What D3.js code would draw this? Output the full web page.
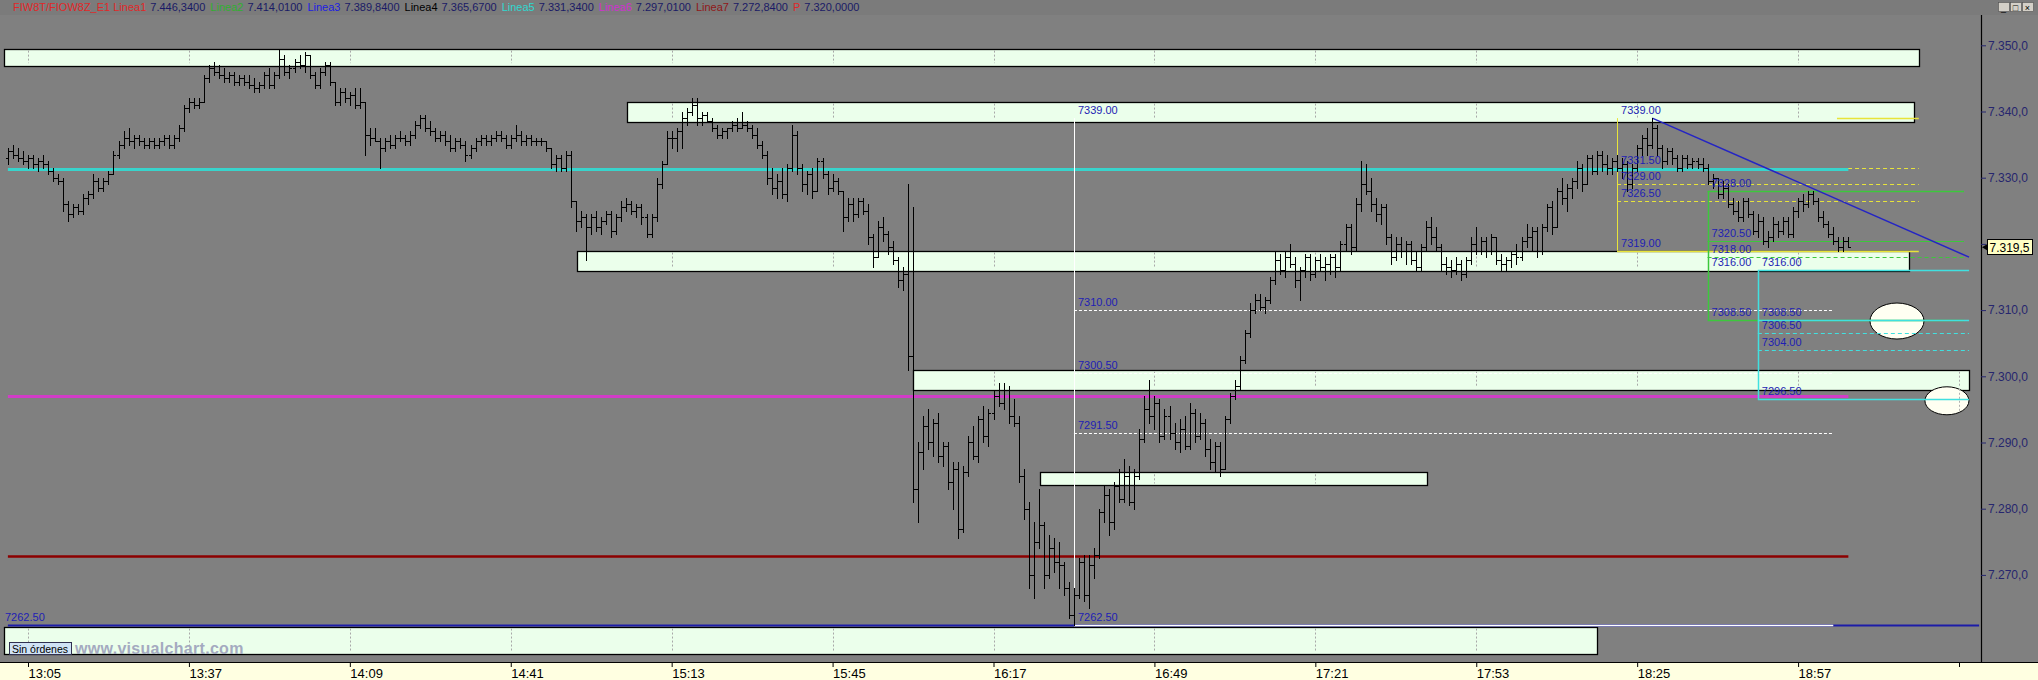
<!DOCTYPE html>
<html><head><meta charset="utf-8">
<script src="https://cdn.jsdelivr.net/npm/d3@7"></script>
<style>
html,body{margin:0;padding:0;background:#808080;overflow:hidden}
svg{display:block;font-family:"Liberation Sans",Arial,sans-serif}
</style></head><body>
<svg id="c" width="2038" height="680"></svg>
<script>
// ---------------- DATA ----------------
const firstBarTime = "13:01";
// [open, high, low, close] one-minute bars
const ohlc = [
[7333,7334.5,7332,7334],[7334,7335,7333,7333.5],[7333.5,7334.5,7332.5,7333],[7333,7334,7332,7332.5],[7332.5,7333.5,7331.5,7333],
[7333,7333.5,7331.5,7332],[7332,7333,7331,7332.5],[7332.5,7333.5,7331.5,7332],[7332,7332.5,7330.5,7331],[7331,7331.5,7329.5,7330],
[7330,7330.5,7329,7329.5],[7329.5,7330,7325,7326],[7326,7326.5,7323.5,7324.5],[7324.5,7326,7324,7325.5],[7325.5,7326,7324.5,7325],
[7325,7327.5,7324.5,7327],[7327,7328,7326,7327.5],[7327.5,7330.5,7327,7329.5],[7329.5,7330,7328,7328.5],[7328.5,7330,7328,7329.5],
[7329.5,7331,7329,7330.5],[7330.5,7334,7330.5,7333.5],[7333.5,7335.5,7333,7335],[7335,7337,7334.5,7336],[7336,7337.5,7335,7335.5],
[7335.5,7336.5,7334.5,7336],[7336,7336.5,7335,7335.5],[7335.5,7336,7334.5,7335],[7335,7336,7334.5,7335.5],[7335.5,7336,7334.5,7335],
[7335,7336,7334.5,7335.5],[7335.5,7336.5,7335,7336],[7336,7336.5,7334.5,7335],[7335,7336.5,7334.5,7336],[7336,7338,7335.5,7337.5],
[7337.5,7341,7337,7340.5],[7340.5,7342,7340,7341.5],[7341.5,7342,7340.5,7341],[7341,7342,7340.5,7341.5],[7341.5,7345.5,7341.5,7345],
[7345,7347,7344.5,7346.5],[7346.5,7347.5,7345.5,7346],[7346,7347,7345,7345.5],[7345.5,7346.5,7344.5,7345],[7345,7346,7344.5,7345.5],
[7345.5,7346,7344,7344.5],[7344.5,7345.5,7344,7345],[7345,7345.5,7344,7344.5],[7344.5,7345.5,7343.5,7344],[7344,7345,7343,7343.5],
[7343.5,7344.5,7343,7344],[7344,7346,7343.5,7345.5],[7345.5,7346.5,7343.5,7344],[7344,7346,7343.5,7345.5],[7345.5,7349.5,7345,7348],
[7348,7348.5,7345.5,7346],[7346,7347,7345,7346.5],[7346.5,7348,7346,7347.5],[7347.5,7348.5,7346.5,7347],[7347,7349,7346,7348.5],
[7348.5,7348.5,7345,7345.5],[7345.5,7346,7343.5,7344],[7344,7346.5,7343.5,7346],[7346,7347.5,7345.5,7347],[7347,7347.5,7344,7344.5],
[7344.5,7344.5,7341,7341.5],[7341.5,7343.5,7341,7343],[7343,7343.5,7341.5,7342],[7342,7343,7341,7342.5],[7342.5,7343.5,7340.5,7341],
[7341,7343.5,7340.5,7341.5],[7341.5,7341.5,7333.5,7336.5],[7336.5,7337.5,7335,7336],[7336,7337.5,7335.5,7335.5],[7335.5,7336,7331.5,7334.5],
[7334.5,7336,7334,7335.5],[7335.5,7336.5,7334.5,7335],[7335,7336.5,7334.5,7336],[7336,7337,7335.5,7336],[7336,7336.5,7335,7335.5],
[7335.5,7337,7335,7336.5],[7336.5,7338.5,7336,7338],[7338,7339.5,7337.5,7339],[7339,7339.5,7337,7337.5],[7337.5,7338.5,7336.5,7337],
[7337,7337.5,7335.5,7336],[7336,7337,7335.5,7336.5],[7336.5,7337,7335,7335.5],[7335.5,7336.5,7334,7334.5],[7334.5,7336,7334,7335.5],
[7335.5,7336,7334.5,7335],[7335,7335.5,7332.5,7333.5],[7333.5,7335,7333,7334.5],[7334.5,7336,7334,7335.5],[7335.5,7336.5,7335,7336],
[7336,7336.5,7335,7335.5],[7335.5,7336.5,7335,7336],[7336,7337,7335.5,7336.5],[7336.5,7337,7335.5,7336],[7336,7336.5,7334.5,7335],
[7335,7336.5,7334.5,7336],[7336,7338,7335.5,7336.5],[7336.5,7337,7335,7335.5],[7335.5,7336.5,7335,7336],[7336,7336.5,7335,7335.5],
[7335.5,7336,7335,7335.5],[7335.5,7336,7335,7335.5],[7335.5,7335.5,7334,7334.5],[7334.5,7334.5,7331.5,7332],[7332,7333.5,7331,7333],
[7333,7333.5,7331,7331.5],[7331.5,7334,7331,7333.5],[7333.5,7334,7325.5,7326.5],[7326.5,7326.5,7322,7323.5],[7323.5,7325,7322.5,7324],
[7324,7324.5,7317.5,7322.5],[7322.5,7324.5,7321.5,7324],[7324,7325,7322,7322.5],[7322.5,7324,7321.5,7323.5],[7323.5,7325,7323,7324.5],
[7324.5,7325,7321,7322],[7322,7324.5,7321.5,7324],[7324,7326.5,7323.5,7325.5],[7325.5,7327,7325,7326],[7326,7326.5,7324.5,7325],
[7325,7326,7324,7325.5],[7325.5,7326,7323,7324],[7324,7324.5,7321,7321.5],[7321.5,7324.5,7321,7324],[7324,7330,7323.5,7329],
[7329,7332.5,7328.5,7332],[7332,7337,7332,7336],[7336,7337,7334.5,7336],[7336,7337.5,7334,7337],[7337,7340,7334.5,7339],
[7339,7340.5,7338,7340],[7340,7342,7339.5,7341],[7341,7342,7338,7339],[7339,7340,7338,7339.5],[7339.5,7340,7338.5,7338.5],
[7338.5,7339,7337,7337.5],[7337.5,7338,7336,7336.5],[7336.5,7337.5,7336,7337],[7337,7337.5,7336,7337.5],[7337.5,7338.5,7337,7338],
[7338,7339,7337,7337.5],[7337.5,7340,7337.5,7338],[7338,7338.5,7337,7337.5],[7337.5,7338,7336,7336.5],[7336.5,7337.5,7334.5,7335],
[7335,7335.5,7333,7333.5],[7333.5,7334,7329,7330],[7330,7331.5,7327.5,7328.5],[7328.5,7330.5,7327,7329.5],[7329.5,7331.5,7327,7327.5],
[7327.5,7332,7326.5,7331.5],[7331.5,7338,7331,7336.5],[7336.5,7337,7330.5,7331.5],[7331.5,7332,7328,7329],[7329,7331,7327.5,7330.5],
[7330.5,7331.5,7327,7328],[7328,7333,7328,7332.5],[7332.5,7333,7330,7330.5],[7330.5,7331,7327.5,7328.5],[7328.5,7330.5,7328,7329.5],
[7329.5,7330,7327.5,7328],[7328,7328,7322,7324],[7324,7327,7323.5,7326],[7326,7327,7323.5,7324.5],[7324.5,7327,7324,7326.5],
[7326.5,7327,7324.5,7325],[7325,7326,7320,7321],[7321,7321.5,7316.5,7318],[7318,7323.5,7318,7322.5],[7322.5,7324,7320.5,7321.5],
[7321.5,7322,7318.5,7319.5],[7319.5,7320.5,7317,7317.5],[7317.5,7318,7313.5,7314.5],[7314.5,7316.5,7313,7315.5],[7315.5,7329,7301,7303],
[7303,7325.5,7281,7283],[7283,7290,7278,7288.5],[7288.5,7294,7286,7292.5],[7292.5,7295,7289,7290],[7290,7293.5,7288,7293],
[7293,7294.5,7287,7288],[7288,7290,7286.5,7289.5],[7289.5,7290,7283,7284],[7284,7287,7280,7286],[7286,7287,7275.5,7277],
[7277,7286.5,7276.5,7285.5],[7285.5,7291,7285,7290],[7290,7292.5,7287.5,7288],[7288,7294,7287,7293.5],[7293.5,7295.5,7290,7291],
[7291,7295,7289.5,7294.5],[7294.5,7298,7293.5,7297],[7297,7299,7295.5,7296],[7296,7299,7295,7298],[7298,7298.5,7293,7294],
[7294,7296.5,7292.5,7293],[7293,7294,7284,7285],[7285,7286,7278.5,7280],[7280,7281,7268,7270],[7270,7278,7266.5,7275],
[7275,7283,7274,7277.5],[7277.5,7278,7268,7270],[7270,7276,7269.5,7274],[7274,7275.5,7270.5,7272],[7272,7275,7268,7271.5],
[7271.5,7272,7267,7268],[7268,7269,7263.5,7264],[7264,7268,7262.5,7267],[7267,7272.5,7266.5,7272],[7272,7273,7266,7267],
[7267,7273,7265,7271.5],[7271.5,7274,7269.5,7273],[7273,7280,7272.5,7279.5],[7279.5,7283.5,7278,7282],[7282,7283,7276,7278],
[7278,7284,7277,7283.5],[7283.5,7286,7281,7281.5],[7281.5,7287.5,7281,7285],[7285,7286.5,7280.5,7281],[7281,7286,7280,7285],
[7285,7292,7284.5,7290.5],[7290.5,7297,7290,7295],[7295,7299.5,7293,7294],[7294,7297,7292,7296],[7296,7296.5,7290,7291],
[7291,7295,7290.5,7294],[7294,7295.5,7290.5,7291.5],[7291.5,7293,7289,7290],[7290,7293.5,7288.5,7292],[7292,7294,7289,7289.5],
[7289.5,7296,7289,7294.5],[7294.5,7295,7290,7291],[7291,7294.5,7290.5,7293],[7293,7293.5,7288,7289],[7289,7290.5,7286,7287],
[7287,7290,7285.5,7289.5],[7289.5,7290,7285,7286],[7286,7294,7286,7293.5],[7293.5,7297.5,7293,7297],[7297,7299.5,7296.5,7298.5],
[7298.5,7303,7298,7302.5],[7302.5,7307,7302,7306.5],[7306.5,7311,7306,7310],[7310,7312.5,7309.5,7311.5],[7311.5,7312.5,7310,7310.5],
[7310.5,7312,7309.5,7311.5],[7311.5,7315,7311,7314.5],[7314.5,7319,7314,7317.5],[7317.5,7318.5,7315.5,7316],[7316,7319,7315,7318],
[7318,7320,7316.5,7317],[7317,7318,7313.5,7314.5],[7314.5,7316.5,7311.5,7316],[7316,7318.5,7315,7318],[7318,7318.5,7314.5,7315.5],
[7315.5,7318,7315,7317.5],[7317.5,7318.5,7316,7316.5],[7316.5,7318,7314.5,7317],[7317,7318.5,7315.5,7318],[7318,7318.5,7315,7316.5],
[7316.5,7320.5,7316,7320],[7320,7323,7319,7322.5],[7322.5,7323,7318.5,7319.5],[7319.5,7327,7319,7326],[7326,7332.5,7325,7329],
[7329,7332,7327.5,7328],[7328,7330,7325,7326],[7326,7327,7323.5,7324.5],[7324.5,7326,7323,7325.5],[7325.5,7326,7320,7321],
[7321,7321.5,7317,7318],[7318,7321,7317.5,7320],[7320,7321,7318,7319],[7319,7320.5,7317,7320],[7320,7320.5,7317,7317.5],
[7317.5,7319,7316,7316.5],[7316.5,7320,7316,7319.5],[7319.5,7323.5,7319,7322.5],[7322.5,7324,7320,7321],[7321,7322.5,7319,7319.5],
[7319.5,7320,7316,7317],[7317,7318,7315.5,7316.5],[7316.5,7317.5,7315,7316],[7316,7318,7315.5,7317],[7317,7317.5,7314.5,7315.5],
[7315.5,7318,7315,7317.5],[7317.5,7321,7317,7320],[7320,7322.5,7318.5,7319],[7319,7321,7318.5,7320.5],[7320.5,7321,7318,7319],
[7319,7321.5,7318.5,7321],[7321,7321,7317,7317.5],[7317.5,7318.5,7316,7317],[7317,7318,7316,7317.5],[7317.5,7319,7316.5,7318.5],
[7318.5,7320,7317,7318],[7318,7321,7317.5,7320.5],[7320.5,7323,7319.5,7321],[7321,7322.5,7319,7322],[7322,7322.5,7318,7319],
[7319,7323,7318.5,7322.5],[7322.5,7326,7322,7325.5],[7325.5,7326.5,7321.5,7322.5],[7322.5,7328.5,7322.5,7328],[7328,7330,7326,7327],
[7327,7329,7325,7328.5],[7328.5,7330,7327,7329.5],[7329.5,7332.5,7328.5,7331.5],[7331.5,7332,7328,7329],[7329,7333.5,7329,7333],
[7333,7333.5,7330.5,7331],[7331,7334,7330.5,7333.5],[7333.5,7334,7331,7332],[7332,7333.5,7330.5,7331.5],[7331.5,7333,7330.5,7332.5],
[7332.5,7333.5,7331,7331.5],[7331.5,7333,7330,7332],[7332,7332.5,7328,7329],[7329,7332,7328.5,7331.5],[7331.5,7335,7331,7334.5],
[7334.5,7336.5,7333.5,7336],[7336,7337.5,7333.5,7335],[7335,7339,7334.5,7337.5],[7337.5,7338,7333.5,7334.5],[7334.5,7335,7331.5,7332.5],
[7332.5,7334.5,7332,7334],[7334,7334.5,7332,7333],[7333,7333.5,7331,7331.5],[7331.5,7333.5,7331,7333],[7333,7333.5,7331.5,7332],
[7332,7333,7331.5,7332.5],[7332.5,7333,7331.5,7332],[7332,7333,7331,7331.5],[7331.5,7332,7329,7329.5],[7329.5,7330.5,7328.5,7330],
[7330,7330,7327,7327.5],[7327.5,7329.5,7327,7328.5],[7328.5,7329,7325.5,7326],[7326,7327,7324.5,7325],[7325,7326.5,7323.5,7324],
[7324,7327,7323.5,7326.5],[7326.5,7327,7324,7324.5],[7324.5,7325,7321.5,7322],[7322,7324.5,7321,7323.5],[7323.5,7324,7320,7320.5],
[7320.5,7322,7319.5,7321],[7321,7324,7320.5,7323],[7323,7323.5,7321,7322],[7322,7324,7321.5,7323.5],[7323.5,7324,7321,7321.5],
[7321.5,7325.5,7321,7325],[7325,7327,7324,7326.5],[7326.5,7327.5,7325,7326],[7326,7328,7325.5,7327.5],[7327.5,7328,7326,7326.5],
[7326.5,7327,7323.5,7324],[7324,7325,7322.5,7323],[7323,7323.5,7321,7321.5],[7321.5,7322.5,7320,7320.5],[7320.5,7321,7319,7319.5],
[7319.5,7321,7319,7320.5],[7320.5,7321,7319.5,7319.5]
];
const timeTicks = ["13:05","13:37","14:09","14:41","15:13","15:45","16:17","16:49","17:21","17:53","18:25","18:57","19:29"];
const priceTicks = [7270,7280,7290,7300,7310,7320,7330,7340,7350];
const lastPrice = 7319.5;

// support/resistance boxes: [low, high] and [start, end]
const boxLevels = [[7347,7349.5],[7338.5,7341.5],[7316,7319],[7298,7301],[7283.5,7285.5],[7258.1,7262.2]];
const boxTimes = [["13:00:14","19:21:03"],["15:04:07","19:20:03"],["14:54:10","19:19:04"],["16:00:59","19:30:59"],["16:26:15","17:43:12"],["13:00:17","18:17:00"]];

// horizontal reference lines (Linea5, Linea6, Linea7)
const refLineNames = ["Linea5","Linea6","Linea7"];
const refLineValues = [7331.34,7297.01,7272.84];
const refLineTimes = ["13:01","19:07"];
const lowLineValue = 7262.5;
const lowLineTimes = ["13:01","19:33"];

// retracement tools
const whiteFibTimes = ["16:33","19:04"];
const whiteFibLevels = [7339,7310,7300.5,7291.5,7262.5];
const yellowFibTimes = ["18:21","19:21"];
const yellowFibLevels = [7339,7331.5,7329,7326.5,7319];
const greenFibTimes = ["18:39","19:30"];
const greenFibLevels = [7328,7320.5,7318,7316,7308.5];
const cyanFibTimes = ["18:49","19:31"];
const cyanFibLevels = [7316,7308.5,7306.5,7304,7296.5];

// trendline
const trendTimes = ["18:28","19:31"];
const trendPrices = [7339,7318];

// ellipses (centre time, centre price)
const ellipseTimes = ["19:16:40","19:26:36"];
const ellipsePrices = [7308.35,7296.3];

// header
const headerNames = ["FIW8T/FIOW8Z_E1 Linea1","Linea2","Linea3","Linea4","Linea5","Linea6","Linea7","P"];
const headerValues = [7446.34,7414.01,7389.84,7365.67,7331.34,7297.01,7272.84,7320.0];

// ---------------- DRAW ----------------
const W = 2038, H = 680, plotR = 1981, plotT = 15, plotB = 662;
const svg = d3.select("#c");
const pT = d3.timeParse("%H:%M:%S");
const T = s => pT(s.length === 5 ? s + ":00" : s);
const x = d3.scaleTime().domain([T("13:05"), T("19:29")]).range([28, 1959]);
const y = d3.scaleLinear().domain([7270, 7350]).range([574.9, 45.3]);
const es = d3.formatLocale({decimal: ",", thousands: ".", grouping: [3], currency: ["", ""]});
const fmtAxis = es.format(",.1f");
const fmtHead = es.format(",.4f");
const fmtLbl = d3.format(".2f");

svg.append("rect").attr("width", W).attr("height", H).attr("fill", "#808080");
svg.append("rect").attr("width", W).attr("height", plotT).attr("fill", "#7b7b7b");

const defs = svg.append("defs");
defs.append("clipPath").attr("id", "clip").append("rect")
  .attr("x", 0).attr("y", plotT).attr("width", plotR).attr("height", plotB - plotT);
const g = svg.append("g").attr("clip-path", "url(#clip)");

// boxes
const boxG = g.append("g");
boxLevels.forEach((b, i) => {
  const x0 = x(T(boxTimes[i][0])), x1 = x(T(boxTimes[i][1]));
  const y0 = y(b[1]), y1 = y(b[0]);
  boxG.append("rect").attr("x", Math.round(x0) + 0.5).attr("y", Math.round(y0) + 0.5)
    .attr("width", Math.round(x1 - x0)).attr("height", Math.round(y1 - y0))
    .attr("fill", "#ebffeb").attr("stroke", "#000").attr("stroke-width", 1.3);
  timeTicks.forEach(tk => {
    const gx = x(T(tk));
    if (gx > x0 + 2 && gx < x1 - 2) {
      boxG.append("line").attr("x1", Math.round(gx) + 0.5).attr("x2", Math.round(gx) + 0.5)
        .attr("y1", y0 + 2).attr("y2", y1 - 2)
        .attr("stroke", "#a8a8a8").attr("stroke-dasharray", "2,2");
    }
  });
});

// ellipses
const ellR = [[27, 18], [22, 14]];
ellipseTimes.forEach((t, i) => {
  g.append("ellipse").attr("cx", x(T(t))).attr("cy", y(ellipsePrices[i]))
    .attr("rx", ellR[i][0]).attr("ry", ellR[i][1])
    .attr("fill", "#fffff2").attr("stroke", "#000").attr("stroke-width", 1);
});
g.append("line").attr("x1", Math.round(x(T("19:29"))) + 0.5).attr("x2", Math.round(x(T("19:29"))) + 0.5)
  .attr("y1", y(ellipsePrices[1]) - 12).attr("y2", y(ellipsePrices[1]) + 12)
  .attr("stroke", "#b0b0b0").attr("stroke-dasharray", "2,2");

function hline(val, t0, t1, color, w, dash) {
  const l = g.append("line").attr("x1", x(T(t0))).attr("x2", x(T(t1)))
    .attr("y1", Math.round(y(val)) + 0.5).attr("y2", Math.round(y(val)) + 0.5)
    .attr("stroke", color).attr("stroke-width", w);
  if (dash) l.attr("stroke-dasharray", dash);
  return l;
}
function vline(t, v0, v1, color, w) {
  const xx = Math.round(x(T(t))) + 0.5;
  g.append("line").attr("x1", xx).attr("x2", xx).attr("y1", y(v0)).attr("y2", y(v1))
    .attr("stroke", color).attr("stroke-width", w || 1);
}

hline(lowLineValue, lowLineTimes[0], lowLineTimes[1], "#1c1ca8", 2);

const yel = "#e8e43a";
vline(yellowFibTimes[0], yellowFibLevels[0], yellowFibLevels[4], yel, 1);
hline(yellowFibLevels[0], "19:04:44", yellowFibTimes[1], yel, 1.5);
[1, 2, 3].forEach(k => hline(yellowFibLevels[k], yellowFibTimes[0], yellowFibTimes[1], yel, 1, "4,3"));
hline(yellowFibLevels[4], yellowFibTimes[0], yellowFibTimes[1], yel, 1.5);

const refColors = ["#38d4cc", "#d23cc8", "#8c0000"];
refLineValues.forEach((v, i) => hline(v, refLineTimes[0], refLineTimes[1], refColors[i], i === 2 ? 2.5 : 3));

vline(whiteFibTimes[0], whiteFibLevels[0], whiteFibLevels[4], "#ffffff", 1);
[1, 2, 3].forEach(k => hline(whiteFibLevels[k], whiteFibTimes[0], whiteFibTimes[1], "#ffffff", 1, "3,2"));
hline(whiteFibLevels[4], whiteFibTimes[0], whiteFibTimes[1], "#ffffff", 1.5);

const grn = "#3cc83c";
vline(greenFibTimes[0], greenFibLevels[0], greenFibLevels[4], grn, 1.5);
hline(greenFibLevels[0], greenFibTimes[0], greenFibTimes[1], grn, 1.5);
hline(greenFibLevels[1], greenFibTimes[0], greenFibTimes[1], grn, 1);
hline(greenFibLevels[2], greenFibTimes[0], greenFibTimes[1], grn, 1, "4,3");
hline(greenFibLevels[4], greenFibTimes[0], greenFibTimes[1], grn, 1.5);

const cyn = "#40e0e0";
vline(cyanFibTimes[0], cyanFibLevels[0], cyanFibLevels[4], cyn, 1.5);
hline(cyanFibLevels[0], cyanFibTimes[0], cyanFibTimes[1], cyn, 1.5);
hline(cyanFibLevels[1], cyanFibTimes[0], cyanFibTimes[1], cyn, 1.5);
hline(cyanFibLevels[2], cyanFibTimes[0], cyanFibTimes[1], cyn, 1, "4,3");
hline(cyanFibLevels[3], cyanFibTimes[0], cyanFibTimes[1], cyn, 1, "4,3");
hline(cyanFibLevels[4], cyanFibTimes[0], cyanFibTimes[1], cyn, 1.5);

g.append("line").attr("x1", x(T(trendTimes[0]))).attr("y1", y(trendPrices[0]))
  .attr("x2", x(T(trendTimes[1]))).attr("y2", y(trendPrices[1]))
  .attr("stroke", "#2424c4").attr("stroke-width", 1.5);

// bars
const t0 = T(firstBarTime);
let p = "";
ohlc.forEach((b, i) => {
  const xx = Math.round(x(d3.timeMinute.offset(t0, i))) + 0.5;
  const yo = Math.round(y(b[0])) + 0.5, yh = Math.round(y(b[1])), yl = Math.round(y(b[2])) + 1, yc = Math.round(y(b[3])) + 0.5;
  p += `M${xx},${yh}V${yl}M${xx - 2.5},${yo}H${xx}M${xx},${yc}H${xx + 2.5}`;
});
g.append("path").attr("d", p).attr("stroke", "#000").attr("stroke-width", 1)
  .attr("fill", "none").attr("shape-rendering", "crispEdges");

const lblColor = "#1e1eb4";
function labels(times, levels) {
  const lx = x(T(times[0])) + 4;
  levels.forEach(v => {
    g.append("text").attr("x", lx).attr("y", y(v) - 4).attr("fill", lblColor)
      .attr("font-size", 11).text(fmtLbl(v));
  });
}
labels(whiteFibTimes, whiteFibLevels);
labels(yellowFibTimes, yellowFibLevels);
labels(greenFibTimes, greenFibLevels);
labels(cyanFibTimes, cyanFibLevels);
g.append("text").attr("x", 5).attr("y", y(lowLineValue) - 4).attr("fill", lblColor)
  .attr("font-size", 11).text(fmtLbl(lowLineValue));

g.append("rect").attr("x", 9.5).attr("y", 642.5).attr("width", 62).attr("height", 12)
  .attr("fill", "#cfe2f4").attr("stroke", "#303050").attr("stroke-width", 1);
g.append("text").attr("x", 12).attr("y", 652.5).attr("font-size", 10.5).attr("fill", "#000").text("Sin órdenes");
g.append("text").attr("x", 75).attr("y", 653.5).attr("font-size", 16).attr("font-weight", "bold")
  .attr("fill", "#a4aac0").attr("letter-spacing", 0.3).text("www.visualchart.com");

svg.append("line").attr("x1", plotR + 0.5).attr("x2", plotR + 0.5).attr("y1", plotT).attr("y2", plotB)
  .attr("stroke", "#000").attr("stroke-width", 1.2);
const ya = svg.append("g").attr("transform", `translate(${plotR},0)`)
  .call(d3.axisRight(y).tickValues(priceTicks).tickSize(5).tickPadding(2).tickFormat(fmtAxis));
ya.select(".domain").remove();
ya.selectAll("line").attr("stroke", "#26266e");
ya.selectAll("text").attr("fill", "#26266e").attr("font-size", 12).attr("font-family", "Liberation Sans, Arial, sans-serif");

const ly = y(lastPrice);
svg.append("rect").attr("x", 1987.5).attr("y", Math.round(ly) - 7.5).attr("width", 45).attr("height", 15)
  .attr("fill", "#ffffc4").attr("stroke", "#000").attr("stroke-width", 1);
svg.append("text").attr("x", 1989.5).attr("y", Math.round(ly) + 4.5).attr("font-size", 12).attr("fill", "#000")
  .text(fmtAxis(lastPrice));
svg.append("path").attr("d", `M${plotR + 1},${ly}l5,-3v6z`).attr("fill", "#000");

svg.append("rect").attr("x", 0).attr("y", plotB).attr("width", W).attr("height", H - plotB).attr("fill", "#ffffe1");
svg.append("line").attr("x1", 0).attr("x2", W).attr("y1", plotB + 0.5).attr("y2", plotB + 0.5)
  .attr("stroke", "#000").attr("stroke-width", 1.2);
const tf = d3.timeFormat("%H:%M");
const xa = svg.append("g").attr("transform", `translate(0,${plotB})`)
  .call(d3.axisBottom(x).tickValues(timeTicks.map(T)).tickSize(5)
    .tickFormat((d, i) => i < timeTicks.length - 1 ? tf(d) : ""));
xa.select(".domain").remove();
xa.selectAll("line").attr("stroke", "#000");
xa.selectAll("text").attr("text-anchor", "start").attr("x", 0).attr("y", 7).attr("dy", "0.71em")
  .attr("fill", "#000").attr("font-size", 13).attr("font-family", "Liberation Sans, Arial, sans-serif");

const hColors = ["#e02828", "#30b030", "#2020e0", "#000000", "#30d8d0", "#d030d0", "#901818", "#e02828"];
const ht = svg.append("text").attr("x", 13).attr("y", 11).attr("font-size", 11);
headerNames.forEach((n, i) => {
  ht.append("tspan").attr("fill", hColors[i]).attr("dx", i === 0 ? 0 : 5).text(n);
  ht.append("tspan").attr("fill", "#1a1a66").attr("dx", 4).text(fmtHead(headerValues[i]));
});

["_", "□", "×"].forEach((s, i) => {
  const bx = 1998 + i * 12;
  svg.append("rect").attr("x", bx + 0.5).attr("y", 2.5).attr("width", 11).attr("height", 9)
    .attr("fill", "#d4d0c8").attr("stroke", "#505050").attr("stroke-width", 0.6);
  svg.append("text").attr("x", bx + 5.5).attr("y", 10.5).attr("text-anchor", "middle")
    .attr("font-size", 9).attr("fill", "#000").text(s);
});
</script>
</body></html>
